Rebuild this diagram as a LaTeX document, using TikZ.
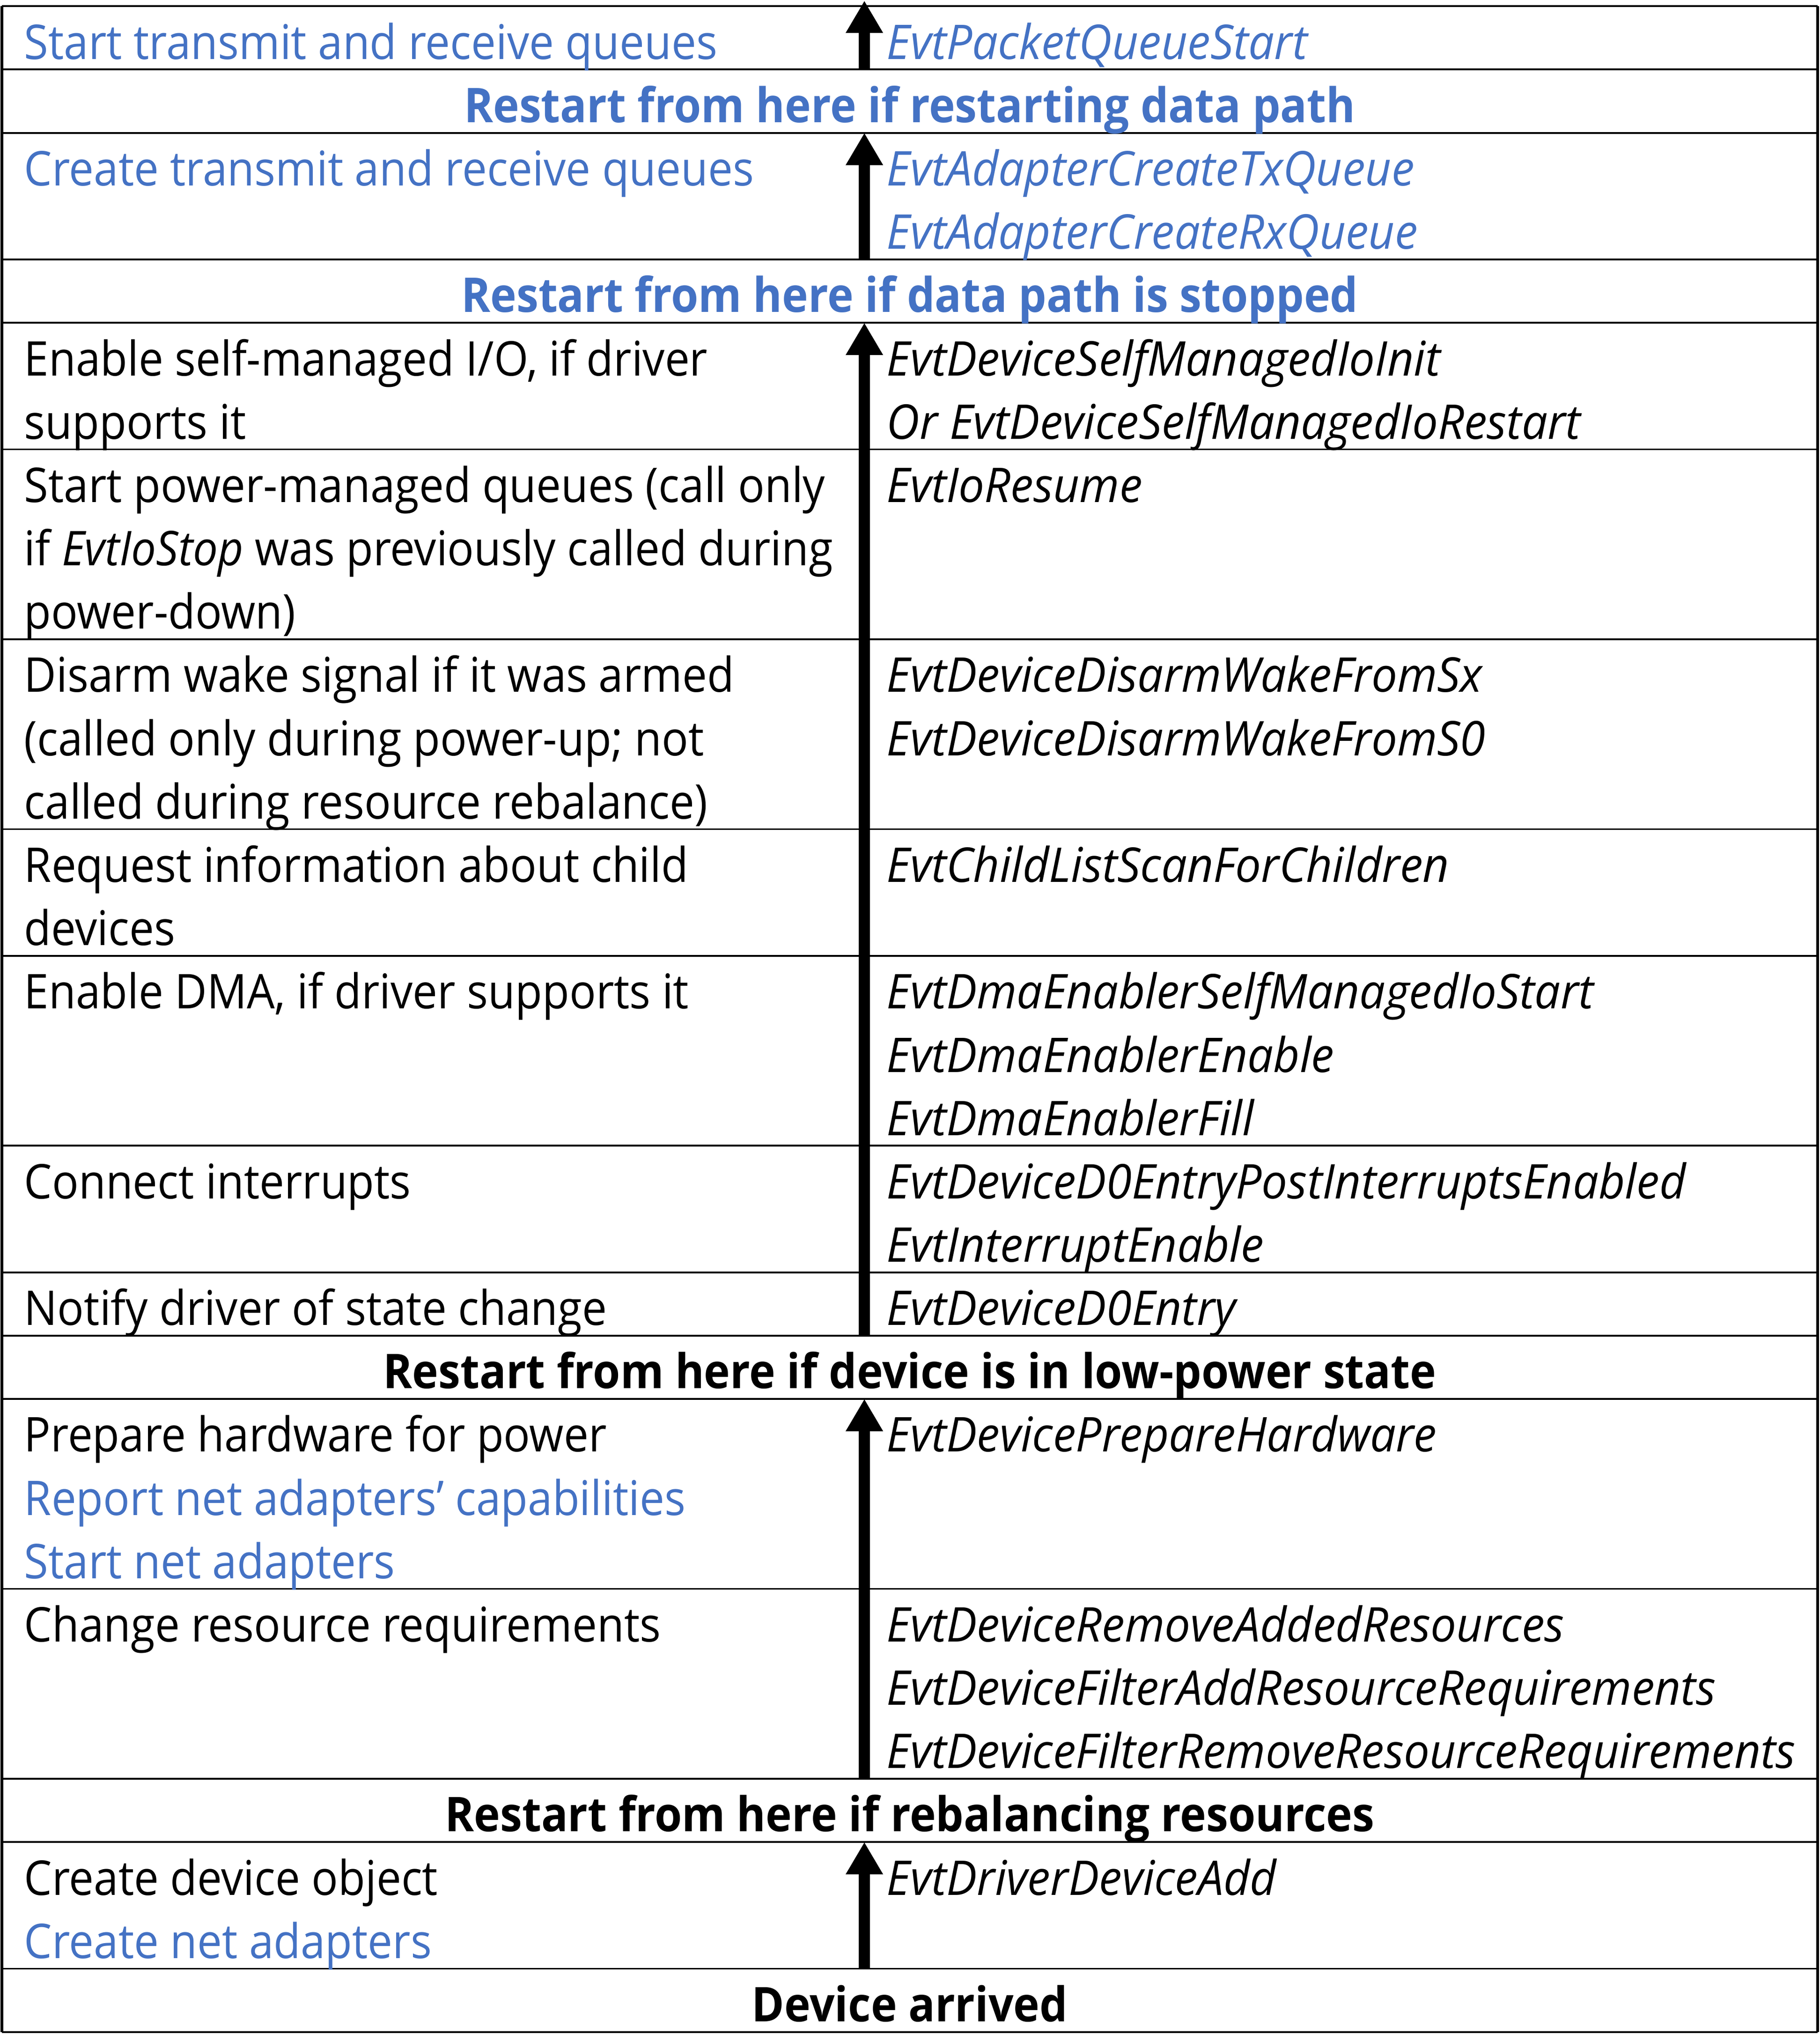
\documentclass[tikz,border=0pt]{standalone}
\usepackage{fontspec}
\setmainfont{Open Sans}[FakeStretch=0.922]
\newfontfamily\evtfont{Open Sans}[FakeStretch=0.956]
\usetikzlibrary{arrows.meta}
\definecolor{netblue}{HTML}{4472C4}
\newcommand\cell[1]{\begin{tabular}[t]{@{}l@{}}#1\end{tabular}}

\begin{document}
\begin{tikzpicture}[
  font=\fontsize{10.5}{13.89}\selectfont,
  lft/.style={anchor=base west, inner sep=0pt},
  rgt/.style={anchor=base west, inner sep=0pt, font=\fontsize{10.5}{13.89}\selectfont\evtfont\itshape},
  hdr/.style={anchor=base, inner sep=0pt, font=\fontsize{10.5}{13.89}\selectfont\bfseries},
  rule/.style={line width=0.4pt},
  border/.style={line width=0.6pt},
  up/.style={line width=2.55pt, -{Triangle[width=7.7pt,length=7.1pt]}},
]
  \fill[white] (0,0) rectangle (14.03,-15.68);
  \useasboundingbox (0,0) rectangle (14.03,-15.68);

  \draw[rule] (0.015,-0.048) -- (14.015,-0.048);
  \draw[rule] (0.015,-0.536) -- (14.015,-0.536);
  \draw[rule] (0.015,-1.024) -- (14.015,-1.024);
  \draw[rule] (0.015,-2.000) -- (14.015,-2.000);
  \draw[rule] (0.015,-2.488) -- (14.015,-2.488);
  \draw[rule] (0.015,-3.464) -- (14.015,-3.464);
  \draw[rule] (0.015,-4.928) -- (14.015,-4.928);
  \draw[rule] (0.015,-6.392) -- (14.015,-6.392);
  \draw[rule] (0.015,-7.368) -- (14.015,-7.368);
  \draw[rule] (0.015,-8.832) -- (14.015,-8.832);
  \draw[rule] (0.015,-9.808) -- (14.015,-9.808);
  \draw[rule] (0.015,-10.296) -- (14.015,-10.296);
  \draw[rule] (0.015,-10.784) -- (14.015,-10.784);
  \draw[rule] (0.015,-12.248) -- (14.015,-12.248);
  \draw[rule] (0.015,-13.712) -- (14.015,-13.712);
  \draw[rule] (0.015,-14.200) -- (14.015,-14.200);
  \draw[rule] (0.015,-15.176) -- (14.015,-15.176);
  \draw[rule] (0.015,-15.664) -- (14.015,-15.664);
  \draw[border] (0.015,-0.048) -- (0.015,-15.664);
  \draw[border] (14.015,-0.048) -- (14.015,-15.664);

  \node[lft, text=netblue] (txrxstart) at (0.18,-0.456) {Start transmit and receive queues};
  \node[rgt, text=netblue] (pqstart) at (6.83,-0.456) {EvtPacketQueueStart};
  \node[hdr, text=netblue] (restartdp) at (7.015,-0.944) {Restart from here if restarting data path};
  \node[lft, text=netblue] (txrxcreate) at (0.18,-1.432) {Create transmit and receive queues};
  \node[rgt, text=netblue] (createq) at (6.83,-1.432) {\cell{EvtAdapterCreateTxQueue\\EvtAdapterCreateRxQueue}};
  \node[hdr, text=netblue] (stopped) at (7.015,-2.408) {Restart from here if data path is stopped};
  \node[lft] (selfio) at (0.18,-2.896) {\cell{Enable self-managed I/O, if driver\\supports it}};
  \node[rgt] (selfioinit) at (6.83,-2.896) {\cell{EvtDeviceSelfManagedIoInit\\Or EvtDeviceSelfManagedIoRestart}};
  \node[lft] (pwrq) at (0.18,-3.872) {\cell{Start power-managed queues (call only\\if \textit{EvtIoStop} was previously called during\\power-down)}};
  \node[rgt] (ioresume) at (6.83,-3.872) {EvtIoResume};
  \node[lft] (disarm) at (0.18,-5.336) {\cell{Disarm wake signal if it was armed\\(called only during power-up; not\\called during resource rebalance)}};
  \node[rgt] (disarmwake) at (6.83,-5.336) {\cell{EvtDeviceDisarmWakeFromSx\\EvtDeviceDisarmWakeFromS0}};
  \node[lft] (child) at (0.18,-6.800) {\cell{Request information about child\\devices}};
  \node[rgt] (scan) at (6.83,-6.800) {EvtChildListScanForChildren};
  \node[lft] (dma) at (0.18,-7.776) {Enable DMA, if driver supports it};
  \node[rgt] (dmaenabler) at (6.83,-7.776) {\cell{EvtDmaEnablerSelfManagedIoStart\\EvtDmaEnablerEnable\\EvtDmaEnablerFill}};
  \node[lft] (intr) at (0.18,-9.240) {Connect interrupts};
  \node[rgt] (intrenable) at (6.83,-9.240) {\cell{EvtDeviceD0EntryPostInterruptsEnabled\\EvtInterruptEnable}};
  \node[lft] (notify) at (0.18,-10.216) {Notify driver of state change};
  \node[rgt] (d0entry) at (6.83,-10.216) {EvtDeviceD0Entry};
  \node[hdr] (lowpower) at (7.015,-10.704) {Restart from here if device is in low-power state};
  \node[lft] (prephw) at (0.18,-11.192) {\cell{Prepare hardware for power\\\textcolor{netblue}{Report net adapters’ capabilities}\\\textcolor{netblue}{Start net adapters}}};
  \node[rgt] (prepare) at (6.83,-11.192) {EvtDevicePrepareHardware};
  \node[lft] (resreq) at (0.18,-12.656) {Change resource requirements};
  \node[rgt] (filter) at (6.83,-12.656) {\cell{EvtDeviceRemoveAddedResources\\EvtDeviceFilterAddResourceRequirements\\EvtDeviceFilterRemoveResourceRequirements}};
  \node[hdr] (rebal) at (7.015,-14.120) {Restart from here if rebalancing resources};
  \node[lft] (devobj) at (0.18,-14.608) {\cell{Create device object\\\textcolor{netblue}{Create net adapters}}};
  \node[rgt] (devadd) at (6.83,-14.608) {EvtDriverDeviceAdd};
  \node[hdr] (arrived) at (7.015,-15.584) {Device arrived};

  \coordinate (a1) at (6.665,-15.176);
  \coordinate (b1) at (6.665,-14.200);
  \coordinate (a2) at (6.665,-13.712);
  \coordinate (b2) at (6.665,-10.784);
  \coordinate (a3) at (6.665,-10.296);
  \coordinate (b3) at (6.665,-2.488);
  \coordinate (a4) at (6.665,-2.000);
  \coordinate (b4) at (6.665,-1.024);
  \coordinate (a5) at (6.665,-0.536);
  \coordinate (b5) at (6.665,-0.005);
  \draw[up] (a1) -- (b1);
  \draw[up] (a2) -- (b2);
  \draw[up] (a3) -- (b3);
  \draw[up] (a4) -- (b4);
  \draw[up] (a5) -- (b5);
\end{tikzpicture}
\end{document}
